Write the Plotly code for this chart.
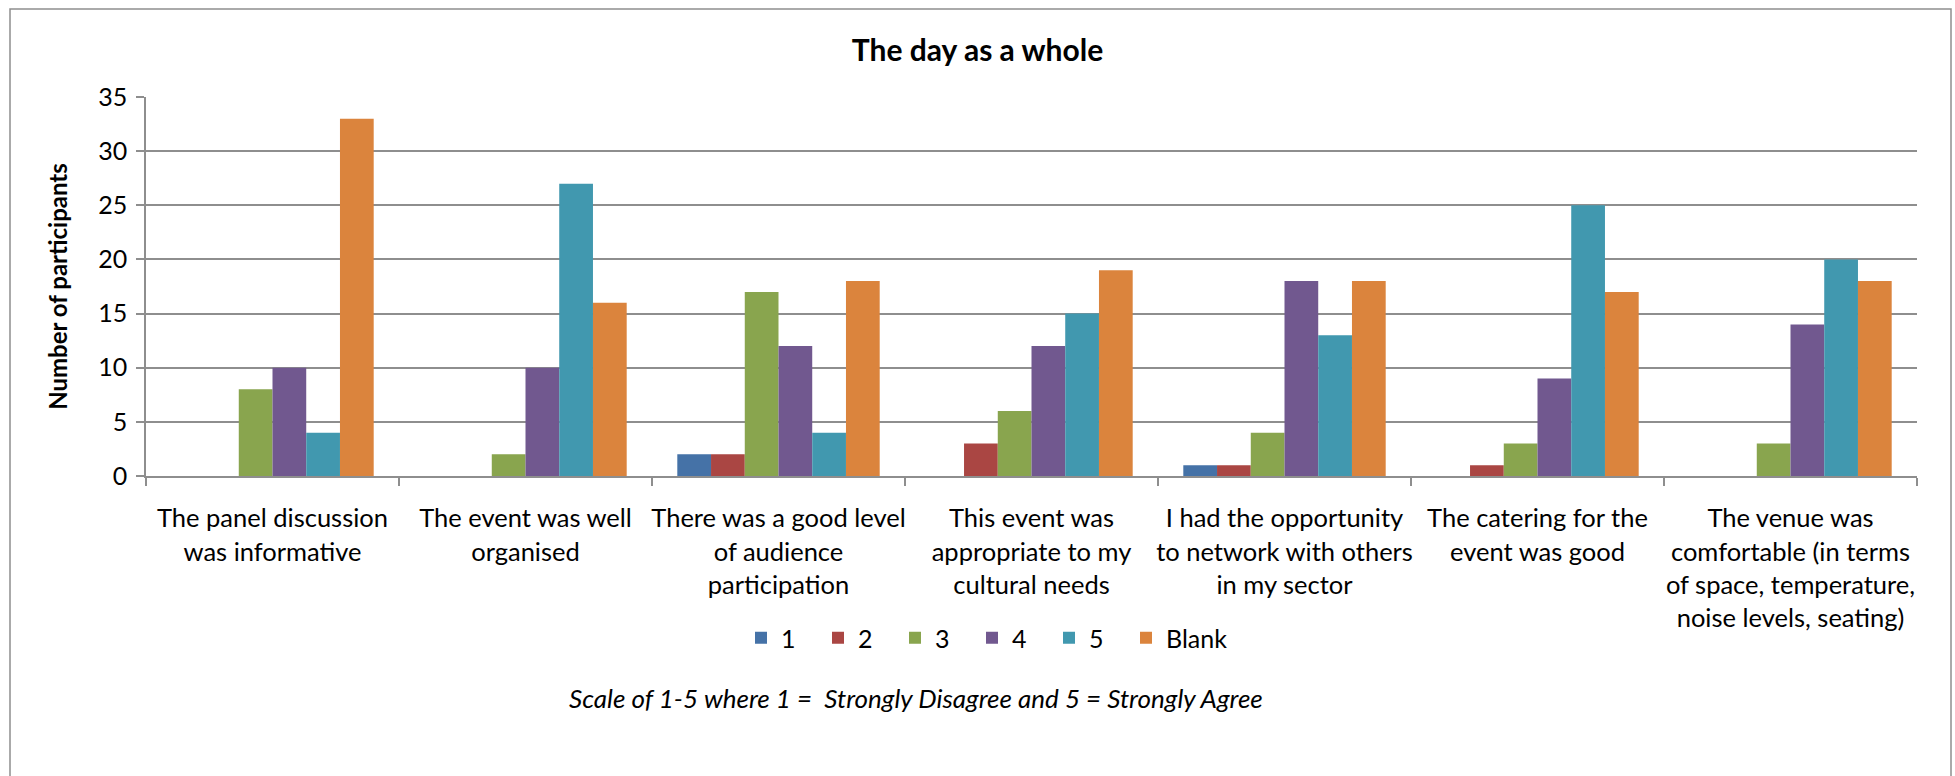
import plotly.graph_objects as go

categories = [
    "The panel discussion was informative",
    "The event was well organised",
    "There was a good level of audience participation",
    "This event was appropriate to my cultural needs",
    "I had the opportunity to network with others in my sector",
    "The catering for the event was good",
    "The venue was comfortable (in terms of space, temperature, noise levels, seating)",
]
tick_labels = [
    "The panel discussion<br>was informative",
    "The event was well<br>organised",
    "There was a good level<br>of audience<br>participation",
    "This event was<br>appropriate to my<br>cultural needs",
    "I had the opportunity<br>to network with others<br>in my sector",
    "The catering for the<br>event was good",
    "The venue was<br>comfortable (in terms<br>of space, temperature,<br>noise levels, seating)",
]
series_names = ["1", "2", "3", "4", "5", "Blank"]
score_1 = [0, 0, 2, 0, 1, 0, 0]
score_2 = [0, 0, 2, 3, 1, 1, 0]
score_3 = [8, 2, 17, 6, 4, 3, 3]
score_4 = [10, 10, 12, 12, 18, 9, 14]
score_5 = [4, 27, 4, 15, 13, 25, 20]
blank = [33, 16, 18, 19, 18, 17, 18]
series_values = [score_1, score_2, score_3, score_4, score_5, blank]
colors = ["#4572A7", "#AA4643", "#89A54E", "#71588F", "#4198AF", "#DB843D"]
y_ticks = [0, 5, 10, 15, 20, 25, 30, 35]

FONT = "Lato, Carlito, 'Liberation Sans Narrow', sans-serif"
GRID = "#8e8e8e"

W, H = 1955, 776
L, R, T, B = 146, 38, 97, 300
pw, ph = W - L - R, H - T - B

def px_x(x):
    return (x - L) / pw

def px_y(y):
    return (H - B - y) / ph

fig = go.Figure()
for name, vals, col in zip(series_names, series_values, colors):
    fig.add_trace(go.Bar(
        name=name, x=categories, y=vals, marker_color=col,
        marker_line_width=0,
        legendwidth=72 if name == "Blank" else 32,
    ))

fig.update_layout(
    width=W, height=H,
    margin=dict(l=L, r=R, t=T, b=B, pad=0, autoexpand=False),
    paper_bgcolor="white", plot_bgcolor="white",
    barmode="group", bargap=0.2, bargroupgap=0,
    font=dict(family=FONT, color="black", size=25),
    title=dict(text="<b>The day as a whole</b>", x=0.5, xref="container",
               y=1 - 50 / H, yref="container", yanchor="middle", xanchor="center",
               font=dict(size=30, family=FONT, color="black")),
    legend=dict(orientation="h", xref="container", yref="container",
                x=992 / W, xanchor="center", y=1 - 638 / H, yanchor="middle",
                font=dict(size=25, family=FONT), itemwidth=30,
                traceorder="normal", bgcolor="rgba(0,0,0,0)"),
    showlegend=True,
)

fig.update_xaxes(
    type="category", tickvals=categories, ticktext=tick_labels, tickangle=0,
    showline=True, linecolor=GRID, linewidth=1.5,
    ticks="outside", tickson="boundaries", ticklen=8, tickcolor=GRID, tickwidth=1.5,
    showgrid=False, tickfont=dict(size=25.5, family=FONT, color="black"),
    ticklabelstandoff=19,
)
fig.update_yaxes(
    range=[0, 35], tickvals=y_ticks, showgrid=True, gridcolor=GRID, gridwidth=1.5,
    showline=True, linecolor=GRID, linewidth=1.5, zeroline=False,
    ticks="outside", ticklen=8, tickcolor=GRID, tickwidth=1.5,
    tickfont=dict(size=25, family=FONT, color="black"), ticklabelstandoff=4,
    title=dict(text="<b>Number of participants</b>", standoff=24,
               font=dict(size=24, family=FONT, color="black")),
)

fig.add_annotation(
    text="<i>Scale of 1-5 where 1 =  Strongly Disagree and 5 = Strongly Agree</i>",
    xref="paper", yref="paper", x=px_x(916), y=px_y(698),
    xanchor="center", yanchor="middle", showarrow=False,
    font=dict(size=26, family=FONT, color="black"),
)

fig.add_shape(
    type="rect", xref="paper", yref="paper",
    x0=px_x(10), x1=px_x(1951), y0=px_y(800), y1=px_y(9),
    line=dict(color=GRID, width=1.5), fillcolor="rgba(0,0,0,0)",
)

fig.write_html("out.html")
